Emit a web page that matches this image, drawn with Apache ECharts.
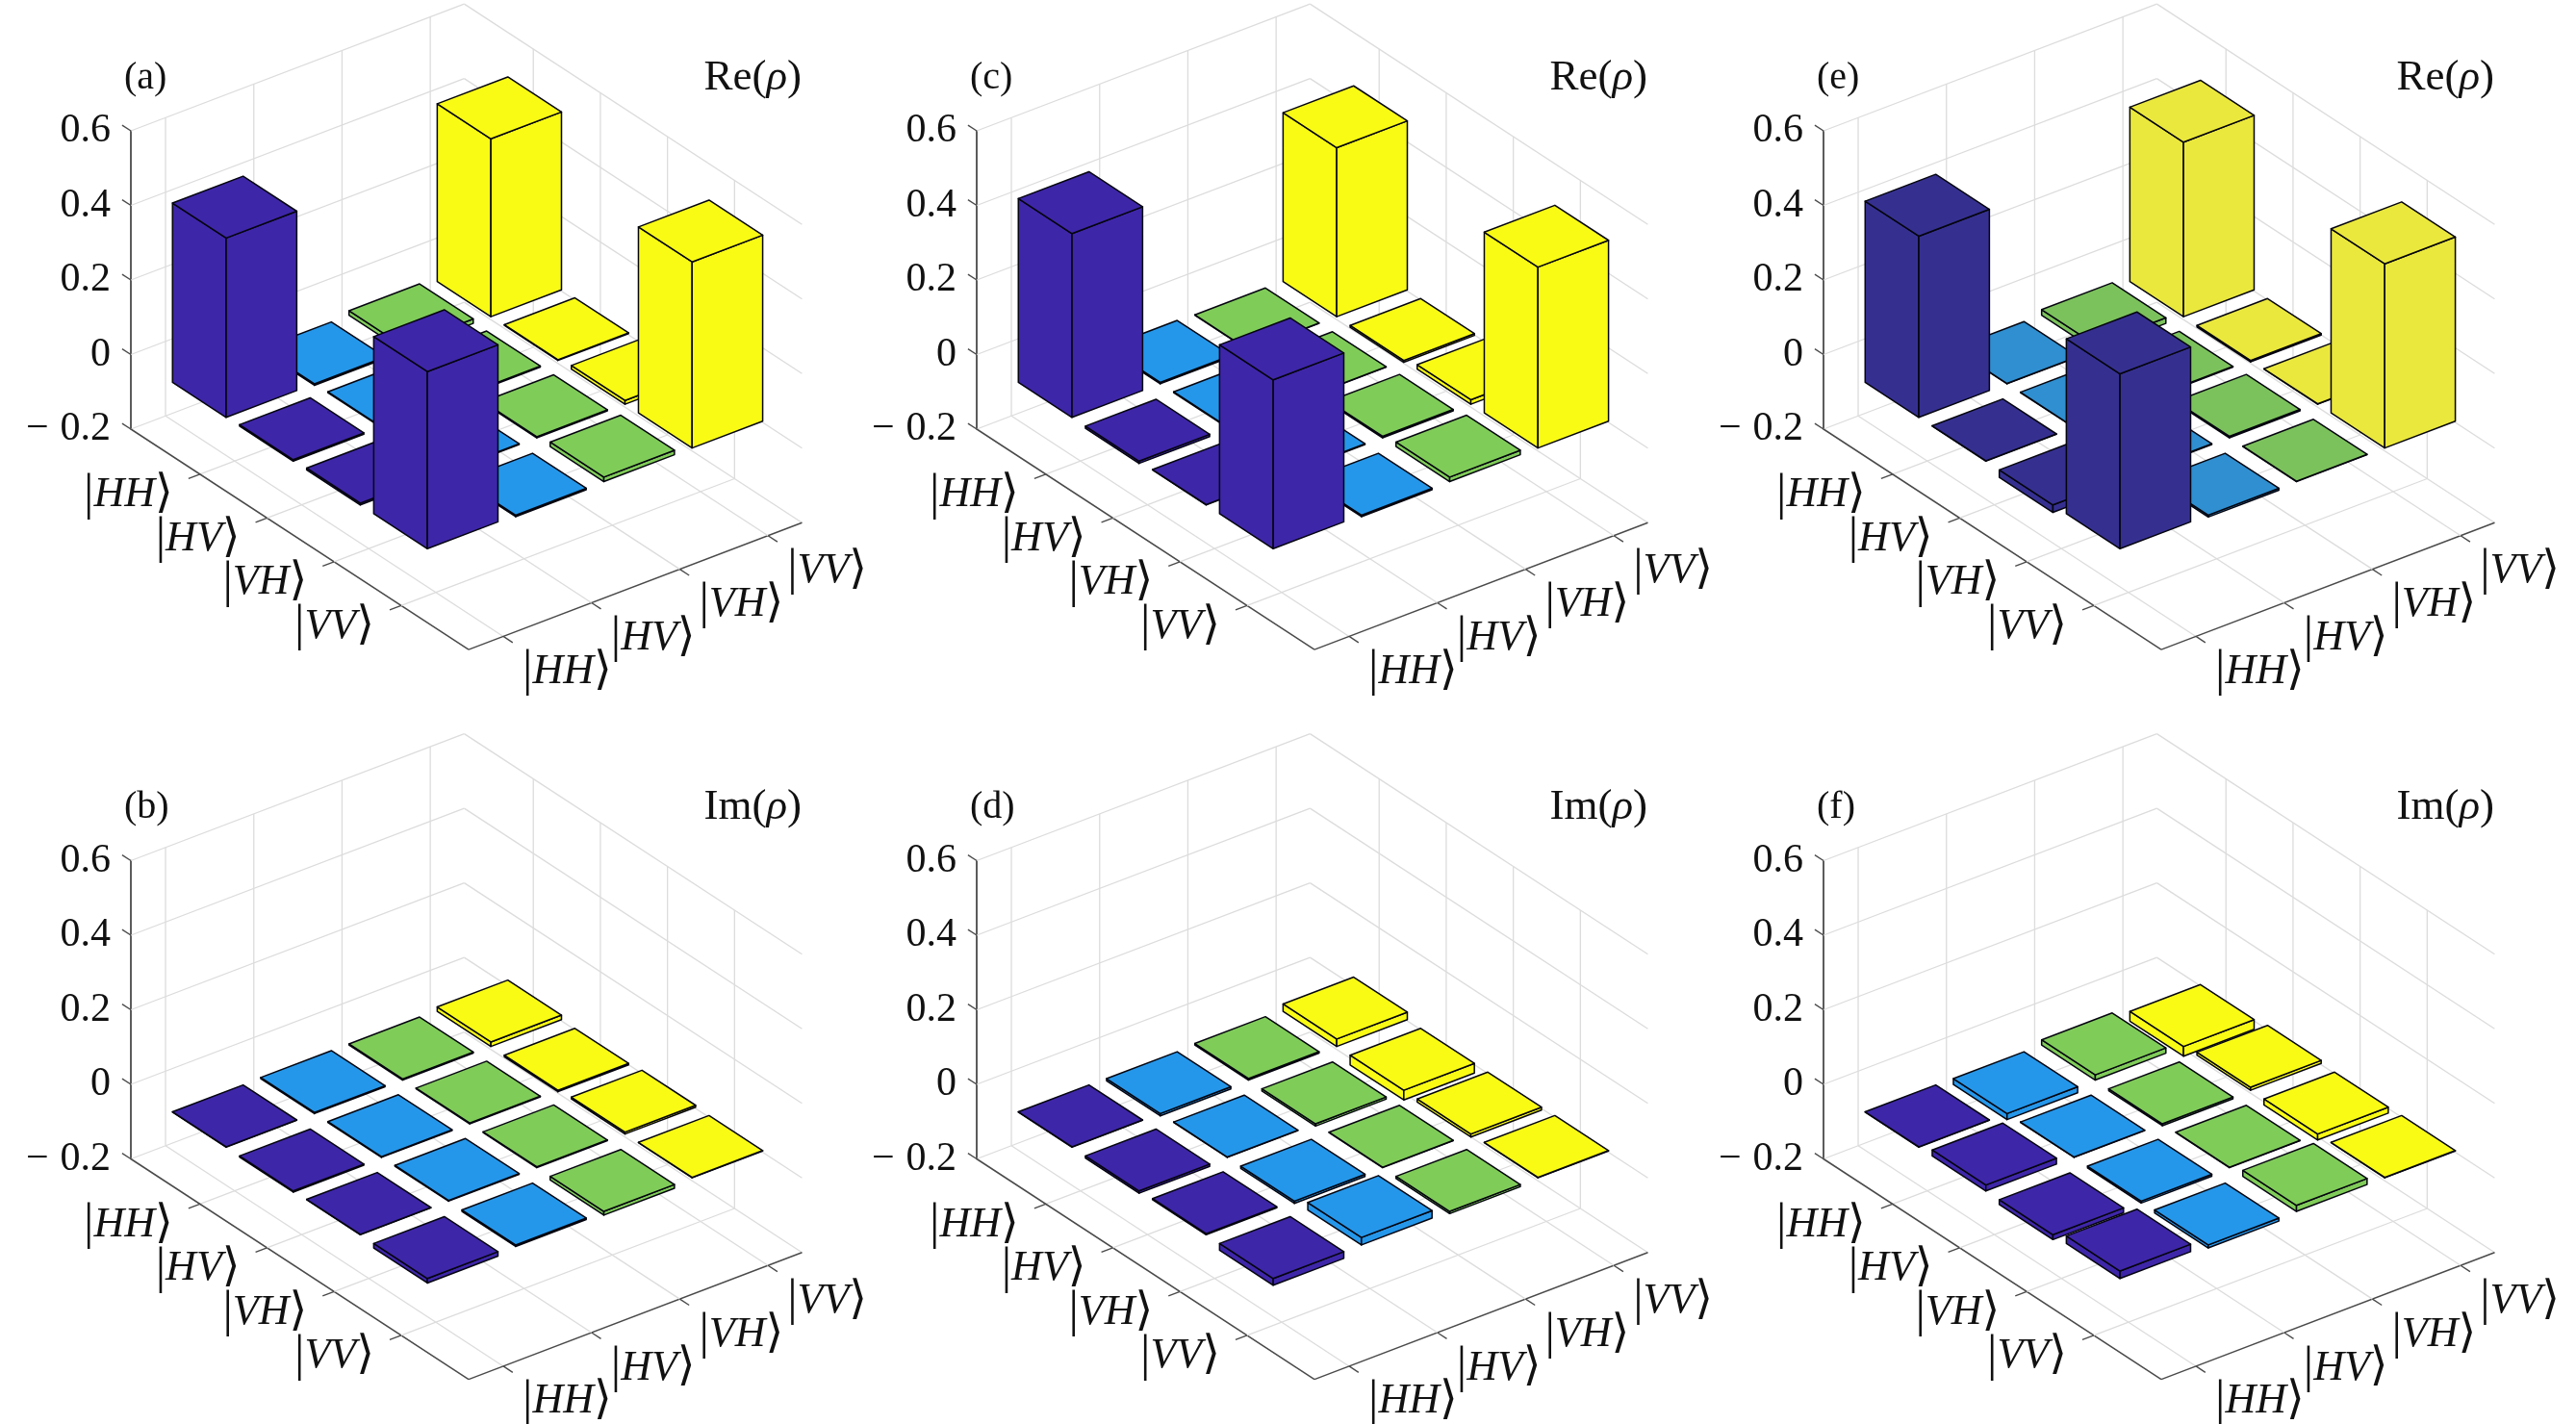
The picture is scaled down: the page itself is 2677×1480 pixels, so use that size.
<!DOCTYPE html>
<html>
<head>
<meta charset="utf-8">
<style>html,body{margin:0;padding:0;background:#fff}#c{width:2677px;height:1480px}</style>
<script src="https://cdn.jsdelivr.net/npm/echarts@6/dist/echarts.min.js"></script>
</head>
<body>
<div id="c"></div>
<script>
// ---------- data: rows follow |HH>,|HV>,|VH>,|VV>; columns the same ----------
const basisLabels = ['HH', 'HV', 'VH', 'VV'];
const zTickLabels = { '0.6': '0.6', '0.4': '0.4', '0.2': '0.2', '0': '0', '-0.2': '\u2212\u2009\u200A0.2' };
const rhoA = [[0.481, -0.004, 0.012, 0.477], [0.004, 0.002, 0.003, 0.002], [0.005, 0.002, 0.003, 0.010], [0.475, -0.004, 0.012, 0.499]];
const rhoB = [[0.001, 0.003, 0.003, 0.012], [-0.003, 0.002, 0.002, -0.004], [0.001, 0.002, 0.002, 0.005], [-0.012, -0.004, -0.010, 0.001]];
const rhoC = [[0.493, 0.004, 0.001, 0.453], [-0.006, 0.002, 0.001, -0.005], [0.001, 0.002, 0.004, 0.012], [0.453, -0.004, 0.012, 0.485]];
const rhoD = [[0.001, -0.006, 0.004, 0.020], [-0.006, 0.001, -0.006, -0.026], [0.003, -0.006, 0.001, -0.008], [-0.018, 0.020, -0.006, 0.001]];
const rhoE = [[0.486, 0.001, 0.015, 0.468], [0.001, 0.001, 0.002, -0.004], [-0.020, 0.002, 0.004, 0.001], [0.469, -0.005, 0.001, 0.494]];
const rhoF = [[0.001, -0.016, 0.014, -0.026], [0.016, 0.001, -0.005, 0.008], [-0.013, -0.005, 0.001, -0.016], [0.020, -0.008, 0.016, 0.001]];
const panelTags = ['(a)', '(b)', '(c)', '(d)', '(e)', '(f)'];
const panelParts = ['Re', 'Im', 'Re', 'Im', 'Re', 'Im'];
const panelData = [rhoA, rhoB, rhoC, rhoD, rhoE, rhoF];

// ---------- styles and layout ----------
const parula = ['#3E26A8', '#2597EA', '#80CC59', '#F9FB15'];
const parulaDull = ['#353090', '#2F8FD0', '#7CC25C', '#EBE83D'];
const panelColors = [parula, parula, parula, parula, parulaDull, parula];
const originX = [136, 136, 1015, 1015, 1895, 1895];
const originY = [446, 1204.5, 446, 1204.5, 446, 1204.5];
const SERIF = '"Liberation Serif","Times New Roman",serif';
const DELIM = '"DejaVu Sans"';
const GRID_W = 700, GRID_H = 310;
const ZS = GRID_H / 0.8;               // px per unit of z
const UX = 69.7, UY = 45.5;            // px per unit along the row axis
const VX = 91.7, VY = -34.9;           // px per unit along the column axis
const Ua = -0.03, Ub = 5.006, Va = 0.607, Vb = 4.385, Z0 = -0.2, Z1 = 0.6;

function pt(api, u, v, z) {
  const px = (u - Ua) * UX + (v - Va) * VX;
  const py = (u - Ua) * UY + (v - Va) * VY;
  return api.coord([px, z - py / ZS]);
}
function seg(api, a, b, color, w) {
  const p = pt(api, a[0], a[1], a[2]), q = pt(api, b[0], b[1], b[2]);
  return { type: 'line', silent: true, shape: { x1: p[0], y1: p[1], x2: q[0], y2: q[1] }, style: { stroke: color, lineWidth: w, fill: null } };
}
function ketText(name, x, y, align) {
  return {
    type: 'text', silent: true,
    style: {
      x, y, align, verticalAlign: 'middle',
      text: '{d||}{b|' + name + '}{k|\u27E9}',
      rich: {
        d: { fontFamily: SERIF, fontSize: 52, fill: '#111' },
        b: { fontFamily: SERIF, fontStyle: 'italic', fontSize: 44, fill: '#111' },
        k: { fontFamily: DELIM, fontSize: 48, fill: '#111' }
      }
    }
  };
}
function renderFrame(params, api) {
  const k = api.value(0), ch = [];
  const GRID = '#dcdcdc', AX = '#4a4a4a';
  ch.push(seg(api, [k, Va, Z0], [k, Vb, Z0], GRID, 1.3));
  ch.push(seg(api, [Ua, k, Z0], [Ub, k, Z0], GRID, 1.3));
  ch.push(seg(api, [k, Vb, Z0], [k, Vb, Z1], GRID, 1.3));
  ch.push(seg(api, [Ua, k, Z0], [Ua, k, Z1], GRID, 1.3));
  if (params.dataIndex === 0) {
    [-0.2, 0, 0.2, 0.4, 0.6].forEach(function (z) {
      ch.push(seg(api, [Ua, Va, z], [Ua, Vb, z], GRID, 1.3));
      ch.push(seg(api, [Ua, Vb, z], [Ub, Vb, z], GRID, 1.3));
      ch.push(seg(api, [Ua, Va, z], [Ua - 0.13, Va, z], AX, 1.4));
    });
    ch.push(seg(api, [Ua, Va, Z0], [Ub, Va, Z0], AX, 1.5));
    ch.push(seg(api, [Ub, Va, Z0], [Ub, Vb, Z0], AX, 1.5));
  }
  ch.push(seg(api, [k, Va, Z0], [k, Va - 0.13, Z0], AX, 1.4));
  ch.push(seg(api, [Ub, k, Z0], [Ub + 0.14, k, Z0], AX, 1.4));
  const pu = pt(api, k, Va, Z0), pv = pt(api, Ub, k, Z0);
  const name = basisLabels[k - 1];
  ch.push(ketText(name, pu[0] - 28, pu[1] + 22, 'right'));
  ch.push(ketText(name, pv[0] + 20, pv[1] + 37, 'left'));
  return { type: 'group', children: ch };
}
function makeBarRenderer(colors) {
  return function (params, api) {
    const u = api.value(0), v = api.value(1), val = api.value(2);
    const hi = Math.max(0, val), lo = Math.min(0, val), h = 0.4;
    const P = function (a, b, z) { return pt(api, a, b, z); };
    const style = { fill: colors[v - 1], stroke: '#05050f', lineWidth: 1.5, lineJoin: 'round' };
    const poly = function (pts) { return { type: 'polygon', silent: true, shape: { points: pts }, style }; };
    return {
      type: 'group',
      children: [
        poly([P(u - h, v - h, hi), P(u + h, v - h, hi), P(u + h, v - h, lo), P(u - h, v - h, lo)]),
        poly([P(u + h, v - h, hi), P(u + h, v + h, hi), P(u + h, v + h, lo), P(u + h, v - h, lo)]),
        poly([P(u - h, v - h, hi), P(u - h, v + h, hi), P(u + h, v + h, hi), P(u + h, v - h, hi)])
      ]
    };
  };
}

// ---------- options ----------
const grids = [], xAxes = [], yAxes = [], series = [], titles = [];
panelData.forEach(function (m, i) {
  const L = originX[i], B = originY[i];
  grids.push({ left: L, top: B - GRID_H, width: GRID_W, height: GRID_H });
  xAxes.push({ gridIndex: i, type: 'value', min: 0, max: GRID_W, show: false });
  yAxes.push({
    gridIndex: i, type: 'value', min: -0.2, max: 0.6, interval: 0.2,
    splitLine: { show: false }, axisTick: { show: false },
    axisLine: { show: true, onZero: false, lineStyle: { color: '#333', width: 1.6 } },
    axisLabel: {
      margin: 21, fontFamily: SERIF, fontSize: 42, color: '#111', padding: [0, 0, 15, 0],
      formatter: function (val) { return zTickLabels[String(Math.round(val * 10) / 10)]; }
    }
  });
  series.push({
    type: 'custom', xAxisIndex: i, yAxisIndex: i, silent: true, z: 1, clip: false,
    data: [[1], [2], [3], [4]], renderItem: renderFrame
  });
  const cells = [];
  m.forEach(function (row, r) { row.forEach(function (val, c) { cells.push([r + 1, c + 1, val]); }); });
  cells.sort(function (a, b) { return (a[0] - a[1]) - (b[0] - b[1]); });
  series.push({
    type: 'custom', xAxisIndex: i, yAxisIndex: i, silent: true, z: 2, clip: false,
    encode: { x: 0, y: 1 }, data: cells, renderItem: makeBarRenderer(panelColors[i])
  });
  titles.push({
    text: panelTags[i], left: L + 18 - 25, top: B - GRID_H - 55 - 24, padding: 0,
    textStyle: { fontFamily: SERIF, fontSize: 40, fontWeight: 'normal', color: '#111', lineHeight: 48 }
  });
  titles.push({
    text: '{a|' + panelParts[i] + '(}{b|\u03C1}{a|)}', left: L + 697, textAlign: 'right', top: B - GRID_H - 55 - 24, padding: 0,
    textStyle: {
      fontFamily: SERIF, fontSize: 45, fontWeight: 'normal', color: '#111', lineHeight: 48,
      rich: {
        a: { fontFamily: SERIF, fontSize: 45, color: '#111', lineHeight: 48 },
        b: { fontFamily: SERIF, fontStyle: 'italic', fontSize: 45, color: '#111', lineHeight: 48 }
      }
    }
  });
});
const chart = echarts.init(document.getElementById('c'), null, { renderer: 'canvas', width: 2677, height: 1480 });
chart.setOption({ animation: false, backgroundColor: '#fff', title: titles, grid: grids, xAxis: xAxes, yAxis: yAxes, series });
</script>
</body>
</html>
